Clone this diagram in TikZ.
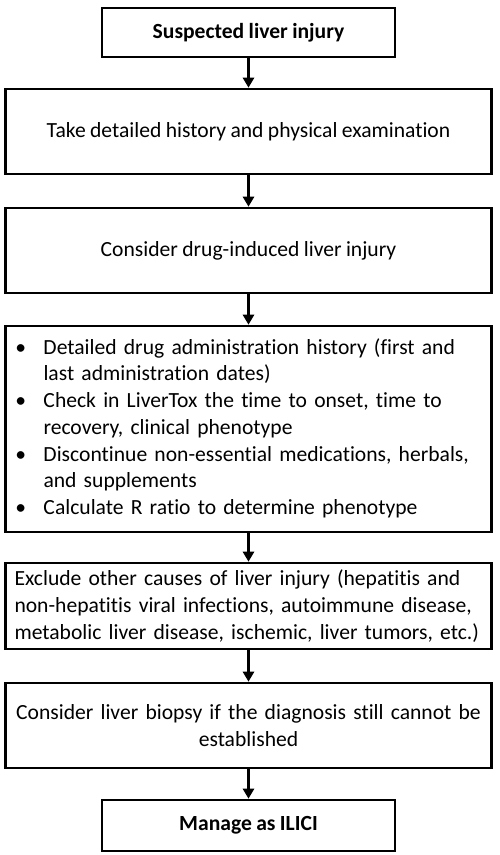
\documentclass[tikz,border=0pt]{standalone}
\usepackage{fontspec}
\setmainfont{Carlito}[Ligatures=NoCommon, WordSpace=0.9]
\usetikzlibrary{arrows.meta}
\tikzset{
  box/.style={draw=black, line width=2.6pt, fill=white, inner xsep=9pt, inner ysep=0pt,
    font=\fontsize{21.6}{26.7}\selectfont},
  flow/.style={line width=2.6pt, -{Triangle[width=11pt,length=10pt]}}
}
\begin{document}
\begin{tikzpicture}[x=1pt,y=-1pt]
\useasboundingbox[fill=white] (0,0) rectangle (500,855);
\node[box, minimum width=293pt, minimum height=49pt, font=\fontsize{21.6}{26.7}\selectfont\bfseries] (n1) at (248.5,32.5) {Suspected liver injury};
\node[box, minimum width=486pt, minimum height=85pt] (n2) at (248.5,131.5) {Take detailed history and physical examination};
\node[box, minimum width=486pt, minimum height=85pt] (n3) at (248.5,250.5) {Consider drug-induced liver injury};
\node[box, minimum width=486pt, minimum height=206pt, text width=468pt, align=left] (n4) at (248.5,429) {%
\begin{tabular}{@{}p{29pt}@{}l@{}}
\hspace{1pt}\textbullet & Detailed drug administration history (first and\\
 & last administration dates)\\
\hspace{1pt}\textbullet & Check in LiverTox the time to onset, time to\\
 & recovery, clinical phenotype\\
\hspace{1pt}\textbullet & Discontinue non-essential medications, herbals,\\
 & and supplements\\
\hspace{1pt}\textbullet & Calculate R ratio to determine phenotype
\end{tabular}};
\node[box, minimum width=486pt, minimum height=86pt, text width=468pt, align=left] (n5) at (248.5,606) {Exclude other causes of liver injury (hepatitis and\\non-hepatitis viral infections, autoimmune disease,\\metabolic liver disease, ischemic, liver tumors, etc.)};
\node[box, minimum width=486pt, minimum height=85pt, text width=468pt, align=center] (n6) at (248.5,725.5) {Consider liver biopsy if the diagnosis still cannot be\\established};
\node[box, minimum width=293pt, minimum height=51pt, font=\fontsize{21.6}{26.7}\selectfont\bfseries] (n7) at (248.5,825.5) {Manage as ILICI};
\draw[flow] (n1) -- (n2);
\draw[flow] (n2) -- (n3);
\draw[flow] (n3) -- (n4);
\draw[flow] (n4) -- (n5);
\draw[flow] (n5) -- (n6);
\draw[flow] (n6) -- (n7);
\end{tikzpicture}
\end{document}
